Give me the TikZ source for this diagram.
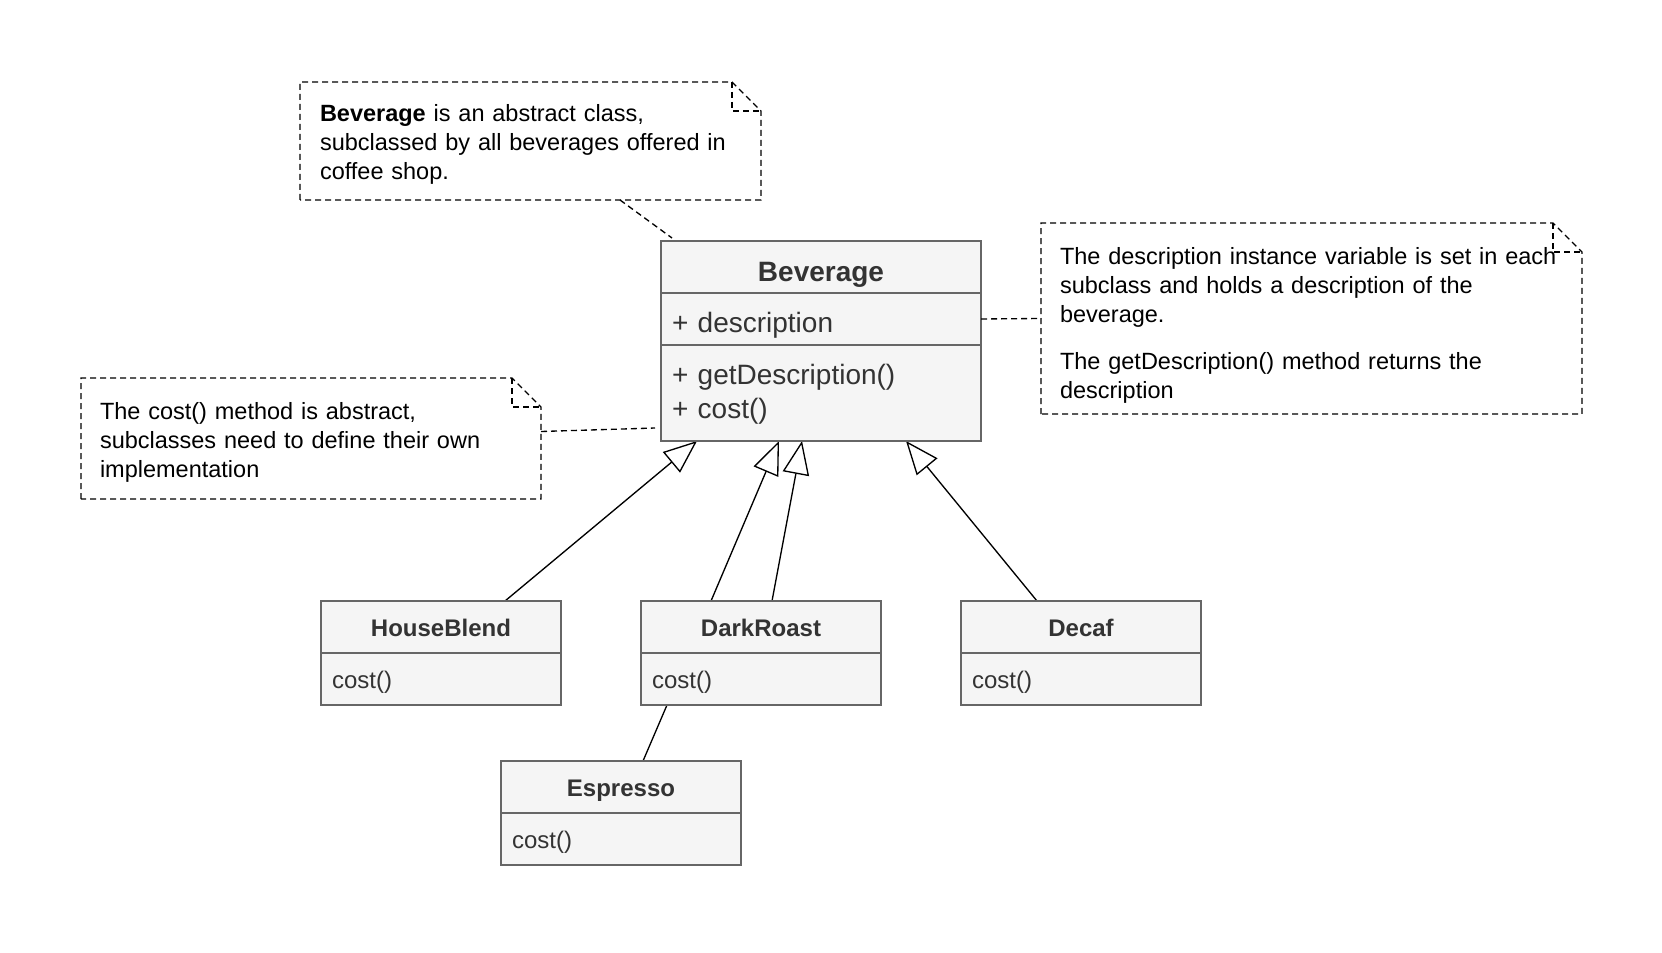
\documentclass[tikz,border=0pt]{standalone}
\usepackage{fontspec}
\setmainfont{Liberation Sans}
\usetikzlibrary{arrows.meta,calc}

\definecolor{classfill}{HTML}{F5F5F5}
\definecolor{classline}{HTML}{666666}
\definecolor{classtext}{HTML}{333333}

\newcommand{\smallfont}{\fontsize{14.4}{17.4}\selectfont}
\newcommand{\notefont}{\fontsize{14.1}{17.4}\selectfont}
\newcommand{\bigfont}{\fontsize{16.8}{20.4}\selectfont}

\pgfdeclarelayer{bg}
\pgfsetlayers{bg,main}

\tikzset{
    classhead/.style={draw=classline, fill=classfill, text=classtext, line width=0.9pt,
        font=\smallfont\bfseries, minimum width=144pt, minimum height=31.2pt, outer sep=0pt,
        text height=11.4pt, text depth=0pt},
    classbody/.style={draw=classline, fill=classfill, text=classtext, line width=0.9pt,
        font=\smallfont, align=left, text width=130.8pt, inner xsep=6.6pt,
        minimum height=31.2pt, outer sep=0pt},
    oneline/.style={text height=11.4pt, text depth=0pt},
    notetext/.style={font=\notefont, align=left, inner ysep=0pt, outer sep=0pt, text height=10.5pt},
    notedash/.style={line width=0.8pt, dash pattern=on 3.6pt off 2.4pt},
    extends/.style={line width=0.8pt, -{Triangle[open, length=20pt, width=16pt, fill=white]}}
}

\newcommand{\noteoutline}[1]{
    \draw [notedash] (#1.south west) -- (#1.north west) -- ($(#1.north east)+(-29,0)$)
        -- ($(#1.north east)+(0,29)$) -- (#1.south east) -- cycle;
    \draw [notedash] ($(#1.north east)+(-29,0)$) |- ($(#1.north east)+(0,29)$);
}

\begin{document}
\begin{tikzpicture}[x=0.6pt, y=-0.6pt]
    \useasboundingbox (0,0) rectangle (1662,952);

    \node [classhead, minimum width=192pt, font=\bigfont\bfseries, text height=17.4pt] (bevhead) at (821,267) {Beverage};
    \node [classbody, minimum width=192pt, text width=178.8pt, font=\bigfont, text height=16.2pt, text depth=0pt] (bevattr) at (821,319) {+ description};
    \node [classbody, minimum width=192pt, text width=178.8pt, minimum height=57.6pt, font=\bigfont, text depth=22.5pt] (bevops) at (821,393) {+ getDescription()\\+ cost()};

    \node [classhead] (hbhead) at (441,627) {HouseBlend};
    \node [classbody, oneline] (hbbody) at (441,679) {cost()};
    \node [classhead] (drhead) at (761,627) {DarkRoast};
    \node [classbody, oneline] (drbody) at (761,679) {cost()};
    \node [classhead] (dchead) at (1081,627) {Decaf};
    \node [classbody, oneline] (dcbody) at (1081,679) {cost()};
    \node [classhead] (esphead) at (621,787) {Espresso};
    \node [classbody, oneline] (espbody) at (621,839) {cost()};

    \node [notetext, inner xsep=12pt, text width=252.6pt, minimum height=70.8pt, text depth=33.4pt] (noteabs) at (530.5,141)
        {\textbf{Beverage} is an abstract class,\\subclassed by all beverages offered in\\coffee shop.};
    \node [notetext, inner xsep=11.4pt, text width=301.8pt, minimum height=114.6pt, text depth=75.1pt] (notedesc) at (1311.5,318.5)
        {The description instance variable is set in each\\subclass and holds a description of the\\beverage.\\[10.8pt]The getDescription() method returns the\\description};
    \node [notetext, inner xsep=11.4pt, text width=253.2pt, minimum height=72.6pt, text depth=32.8pt] (notecost) at (311,438.5)
        {The cost() method is abstract,\\subclasses need to define their own\\implementation};

    \noteoutline{noteabs}
    \noteoutline{notedesc}
    \noteoutline{notecost}

    \draw [notedash] ($(noteabs.south west)+(320,0)$) -- ($(bevhead.north west)+(11,-3)$);
    \draw [notedash] (bevattr.east) -- (notedesc.west);
    \draw [notedash] ($(notecost.east)+(0,-7)$) -- ($(bevops.south west)+(-6,-13)$);

    \begin{pgfonlayer}{bg}
        \draw [extends] ($(hbhead.north)+(64,0)$) -- ($(bevops.south west)+(36,0)$);
        \draw [extends] ($(drhead.north)+(-50,0)$) -- ($(bevops.south west)+(118,0)$);
        \draw [extends] ($(esphead.north)+(22,0)$) -- ($(drbody.south west)+(26,0)$)
            -- ($(drhead.north west)+(131,0)$) -- ($(bevops.south west)+(141,0)$);
        \draw [extends] ($(dchead.north)+(-44,0)$) -- ($(bevops.south west)+(245,0)$);
    \end{pgfonlayer}

\end{tikzpicture}
\end{document}
